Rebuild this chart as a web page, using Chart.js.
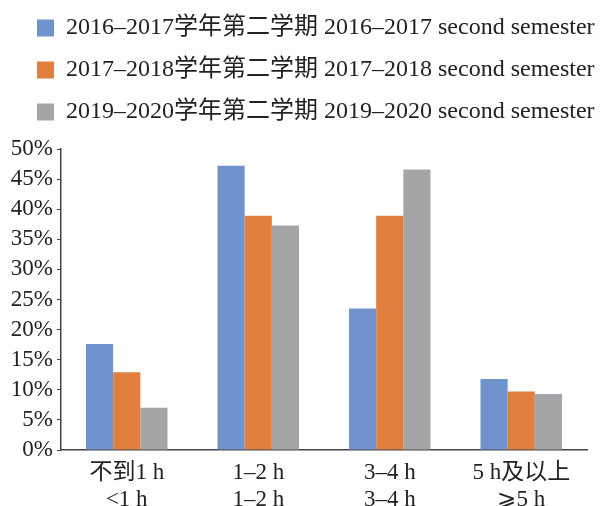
<!DOCTYPE html>
<html>
<head>
<meta charset="utf-8">
<script src="https://cdn.jsdelivr.net/npm/chart.js@4.4.1/dist/chart.umd.min.js"></script>
<style>
  html, body { margin: 0; padding: 0; background: #fff; overflow: hidden; }
  #wrap { width: 601px; height: 506px; }
</style>
</head>
<body>
<div id="wrap"><canvas id="grafico"></canvas></div>
<script>
// categorias (chino / ingles)
var categoriasCn = ["不到1 h", "1–2 h", "3–4 h", "5 h及以上"];
var categoriasEn = ["<1 h", "1–2 h", "3–4 h", "⩾5 h"];

// nombres de las series
var series = [
    "2016–2017学年第二学期 2016–2017 second semester",
    "2017–2018学年第二学期 2017–2018 second semester",
    "2019–2020学年第二学期 2019–2020 second semester"
];

// porcentajes
var valores2016 = [17.6, 47.2, 23.5, 11.8];
var valores2017 = [12.9, 38.9, 38.9, 9.7];
var valores2019 = [7.0, 37.3, 46.6, 9.3];

var colores = ["#7093cd", "#e07f3e", "#a5a5a8"];
var fuente = "'Liberation Serif', 'Noto Sans CJK SC', 'DejaVu Serif', serif";

var etiquetas = categoriasCn.map(function (c, i) { return [c, categoriasEn[i]]; });

// la leyenda ocupa la franja de arriba y empieza un poco mas a la derecha
var ajusteLeyenda = {
    id: "ajusteLeyenda",
    beforeInit: function (chart) {
        var fitOriginal = chart.legend.fit;
        chart.legend.fit = function () {
            fitOriginal.bind(chart.legend)();
            this.height = 151;
        };
    },
    afterLayout: function (chart) {
        chart.legend.left += 19;
        chart.legend.right += 19;
    }
};

var ctx = document.getElementById("grafico").getContext("2d");
var grafico = new Chart(ctx, {
    type: "bar",
    data: {
        labels: etiquetas,
        datasets: [
            { label: series[0], data: valores2016, backgroundColor: colores[0] },
            { label: series[1], data: valores2017, backgroundColor: colores[1] },
            { label: series[2], data: valores2019, backgroundColor: colores[2] }
        ]
    },
    options: {
        responsive: true,
        maintainAspectRatio: false,
        animation: false,
        categoryPercentage: 0.62,
        barPercentage: 1.0,
        layout: { padding: { left: 0, right: 14, top: -2, bottom: 0 } },
        plugins: {
            legend: {
                position: "top",
                align: "start",
                labels: {
                    boxWidth: 17,
                    boxHeight: 17,
                    padding: 18,
                    color: "#222",
                    font: { family: fuente, size: 24 }
                }
            },
            tooltip: { enabled: false }
        },
        scales: {
            x: {
                grid: { display: false },
                border: { display: true, color: "#444", width: 1.5 },
                ticks: {
                    color: "#222",
                    padding: 1,
                    maxRotation: 0,
                    autoSkip: false,
                    font: { family: fuente, size: 23, lineHeight: 1.2 }
                },
                afterFit: function (scale) { scale.height = 56; }
            },
            y: {
                min: 0,
                max: 50,
                grid: { drawOnChartArea: false, drawTicks: true, tickLength: 4, color: "#444" },
                border: { display: true, color: "#444", width: 1.5 },
                ticks: {
                    stepSize: 5,
                    autoSkip: false,
                    padding: 4,
                    color: "#222",
                    font: { family: fuente, size: 23 },
                    callback: function (v) { return v + "%"; }
                },
                afterFit: function (scale) { scale.width = 61; }
            }
        }
    },
    plugins: [ajusteLeyenda]
});
</script>
</body>
</html>
